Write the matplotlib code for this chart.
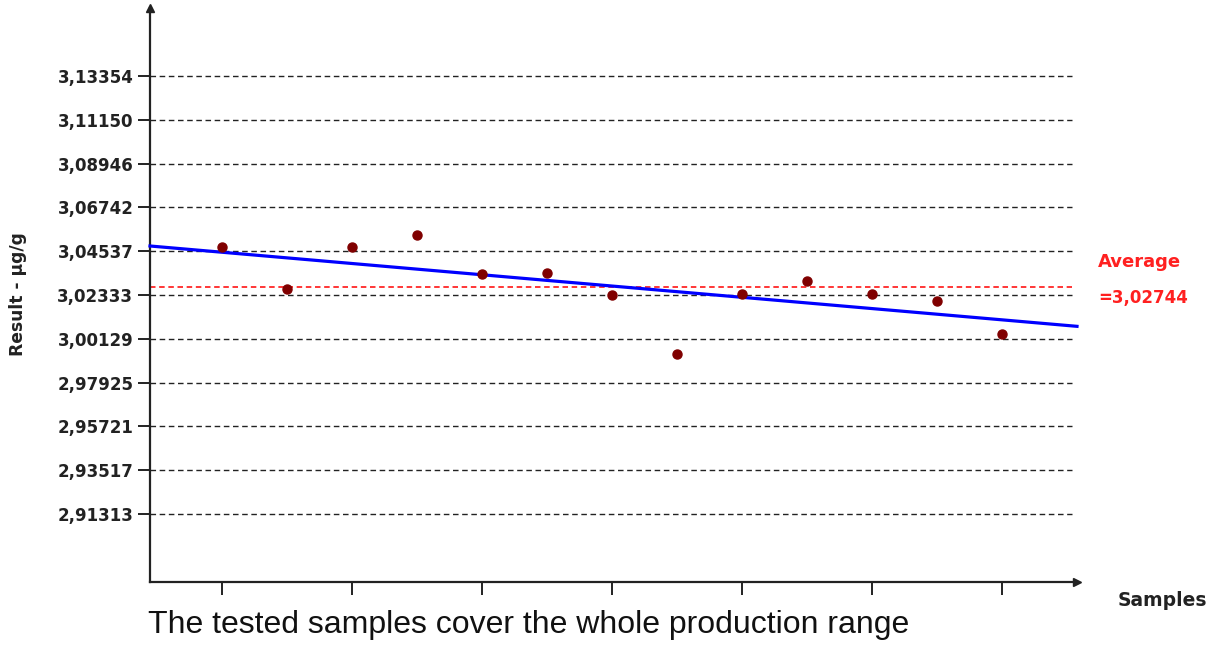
import matplotlib.pyplot as plt
import numpy as np

# sample results
samples = np.arange(1, 14)
results = [3.0474, 3.0263, 3.0474, 3.0534, 3.0339, 3.0344, 3.0233,
           2.9937, 3.0238, 3.0304, 3.0238, 3.0203, 3.0038]
avg_value = 3.02744
avg_label = '=3,02744'
ytick_values = [2.91313, 2.93517, 2.95721, 2.97925, 3.00129, 3.02333,
                3.04537, 3.06742, 3.08946, 3.11150, 3.13354]
ytick_labels = ['2,91313', '2,93517', '2,95721', '2,97925', '3,00129', '3,02333',
                '3,04537', '3,06742', '3,08946', '3,11150', '3,13354']
xtick_values = [1, 3, 5, 7, 9, 11, 13]

W, H = 1215, 646
fig = plt.figure(figsize=(W / 100, H / 100), dpi=100)

def fx(px):
    return px / W

def fy(py):
    return 1 - py / H

# axes box in pixels: left 150, right 1077, top 8, bottom 582
ax = fig.add_axes([fx(150), fy(582), fx(1077) - fx(150), fy(8) - fy(582)])
ax.set_xlim(-0.1077, 14.154)
ax.set_ylim(2.87891, 3.16774)

for v in ytick_values:
    ax.axhline(v, xmin=0, xmax=0.995, color='#222222', lw=1.0,
               dashes=(4, 2.6), zorder=1)

ax.axhline(avg_value, xmin=0, xmax=0.995, color='#ff0000', lw=1.1,
           dashes=(3.6, 2.4), zorder=2)

# linear trend through the samples
k, b = np.polyfit(samples, results, 1)
xs = np.array(ax.get_xlim())
ax.plot(xs, k * xs + b, color='#0000ff', lw=2.3, zorder=3, clip_on=False)

ax.plot(samples, results, 'o', color='#800000', ms=6.5, mec='#800000', zorder=4)

ax.set_yticks(ytick_values)
ax.set_yticklabels(ytick_labels, fontweight='bold', fontsize=12, color='#222222')
ax.set_xticks(xtick_values)
ax.set_xticklabels([])
ax.tick_params(axis='both', direction='out', length=9, width=1.4, color='#222222', pad=3)

for side in ['top', 'right']:
    ax.spines[side].set_visible(False)
for side in ['left', 'bottom']:
    ax.spines[side].set_linewidth(1.6)
    ax.spines[side].set_color('#222222')

# arrow heads at axis ends
ax.plot([0], [1], marker='^', color='#222222', ms=6, transform=ax.transAxes, clip_on=False)
ax.plot([1], [0], marker='>', color='#222222', ms=6, transform=ax.transAxes, clip_on=False)

fig.text(fx(1098), fy(262), 'Average', color='#ff2020', fontweight='bold',
         fontsize=13, va='center', ha='left')
fig.text(fx(1098), fy(298), avg_label, color='#ff2020', fontweight='bold',
         fontsize=12, va='center', ha='left')
fig.text(fx(1118), fy(601), 'Samples', color='#222222', fontweight='bold',
         fontsize=13.5, va='center', ha='left')
fig.text(fx(18), fy(294), 'Result - µg/g', color='#222222', fontweight='bold',
         fontsize=12.3, va='center', ha='center', rotation=90)
fig.text(fx(148), fy(625), 'The tested samples cover the whole production range',
         family='Liberation Sans', fontsize=23, va='center', ha='left', color='#111111')

fig.savefig('out.png', dpi=100)
